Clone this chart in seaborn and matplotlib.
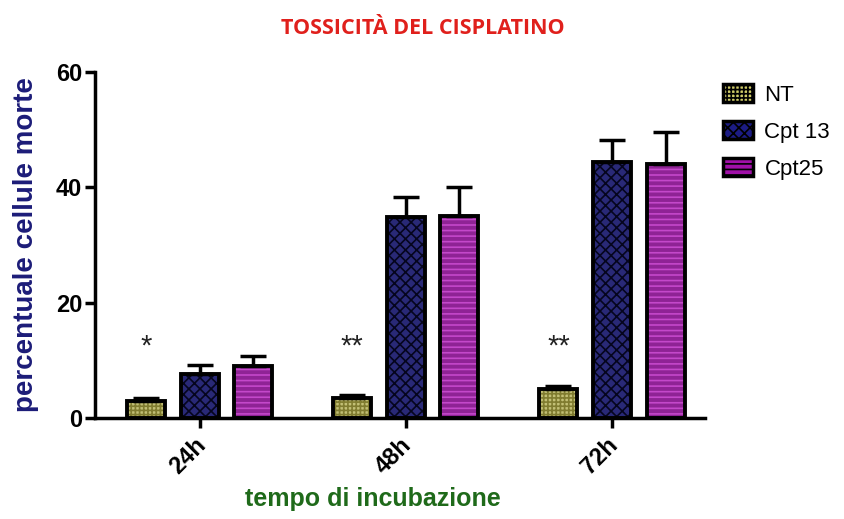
import numpy as np
import pandas as pd
import matplotlib
matplotlib.use("Agg")
import matplotlib.pyplot as plt
import matplotlib.transforms as mtrans
from matplotlib.patches import Patch, Rectangle
import seaborn as sns

# dati
tempi = ['24h', '48h', '72h']
gruppi = ['NT', 'Cpt 13', 'Cpt25']
nt_media = [3.0, 3.4, 5.0]
nt_err = [0.4, 0.5, 0.6]
cpt13_media = [7.6, 34.8, 44.4]
cpt13_err = [1.6, 3.5, 3.8]
cpt25_media = [9.0, 35.0, 44.0]
cpt25_err = [1.8, 5.0, 5.6]
stelle = ['*', '**', '**']

colori = {'NT': '#cfcb68', 'Cpt 13': '#1c1c84', 'Cpt25': '#a010a8'}
tratteggio = {'NT': '#807c30', 'Cpt 13': '#05051e', 'Cpt25': '#c448ca'}
hatch = {'NT': '++++', 'Cpt 13': 'xxx', 'Cpt25': '---'}

df = pd.DataFrame({
    'tempo': tempi * 3,
    'gruppo': [g for g in gruppi for _ in tempi],
    'valore': nt_media + cpt13_media + cpt25_media,
    'err': nt_err + cpt13_err + cpt25_err,
})

sns.set_style('ticks')
plt.rcParams['font.family'] = ['Liberation Sans', 'DejaVu Sans']
plt.rcParams['hatch.linewidth'] = 1.2
plt.rcParams['text.color'] = 'black'
plt.rcParams['xtick.color'] = 'black'
plt.rcParams['ytick.color'] = 'black'

fig = plt.figure(figsize=(8.45, 5.19), dpi=100)
ax = fig.add_axes([0.112, 0.195, 0.722, 0.666])

sns.barplot(data=df, x='tempo', y='valore', hue='gruppo', order=tempi,
            hue_order=gruppi, palette=colori, width=0.78, gap=0.29,
            errorbar=None, legend=False, ax=ax)

# tratteggio, bordo nero e barre d'errore (solo verso l'alto)
for cont, g in zip(ax.containers, gruppi):
    sub = df[df['gruppo'] == g]
    for p, err in zip(cont.patches, sub['err']):
        p.set_hatch(hatch[g])
        p.set_edgecolor(tratteggio[g])
        p.set_linewidth(0)
        ax.add_patch(Rectangle(p.get_xy(), p.get_width(), p.get_height(),
                               fill=False, ec='black', lw=2.8, zorder=3))
        xc = p.get_x() + p.get_width() / 2
        ax.errorbar(xc, p.get_height(), yerr=[[0], [err]], fmt='none',
                    ecolor='black', elinewidth=2.5, capsize=9.5, capthick=2.5,
                    zorder=2)

# asterischi sopra le barre NT
for p, s in zip(ax.containers[0].patches, stelle):
    ax.text(p.get_x() + p.get_width() / 2, 10.0, s, ha='center', va='bottom',
            fontsize=21, color='#222222')

ax.set_ylim(0, 60)
ax.set_xlim(-0.51, 2.45)
ax.set_yticks([0, 20, 40, 60])
sns.despine(ax=ax)
for sp in ['left', 'bottom']:
    ax.spines[sp].set_linewidth(2.5)
    ax.spines[sp].set_color('black')
ax.tick_params(axis='both', width=2.5, length=7, labelsize=17)
ax.tick_params(axis='y', pad=2)
for t in ax.get_yticklabels():
    t.set_fontweight('bold')
ax.set_xticks(range(len(tempi)))
ax.set_xticklabels(tempi, rotation=45, fontweight='bold', fontsize=17,
                   ha='center', va='top')
ax.tick_params(axis='x', pad=4)
sposta = mtrans.ScaledTranslation(-0.12, 0, fig.dpi_scale_trans)
for t in ax.get_xticklabels():
    t.set_transform(t.get_transform() + sposta)

ax.set_xlabel('tempo di incubazione', fontsize=18, fontweight='bold',
              color='#1f6a1a')
ax.xaxis.set_label_coords(0.456, -0.2)
ax.set_ylabel('percentuale cellule morte', fontsize=20, fontweight='bold',
              color='#1c1c78', labelpad=12)

fig.suptitle('TOSSICITÀ DEL CISPLATINO', x=0.5, y=0.965, fontsize=15.5,
             fontweight='bold', color='#e0201c', family=['Open Sans', 'DejaVu Sans'])

maniglie = [Patch(facecolor=colori[g], edgecolor='black', hatch=hatch[g],
                  linewidth=2.5, label=g) for g in gruppi]
ax.legend(handles=maniglie, loc='upper left', bbox_to_anchor=(1.005, 1.01),
          frameon=False, fontsize=16, borderaxespad=0.3,
          handlelength=1.35, handleheight=0.85,
          labelspacing=0.7, handletextpad=0.5)

fig.savefig('out.png', dpi=100)
